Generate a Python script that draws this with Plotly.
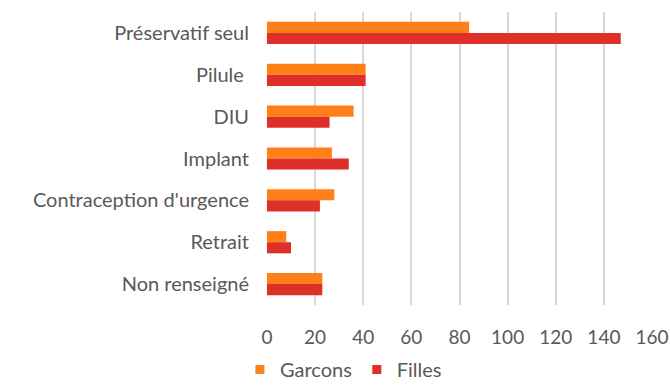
import plotly.graph_objects as go

# Contraception methods and counts by sex
methods = ["Préservatif seul", "Pilule\u00a0", "DIU", "Implant",
           "Contraception d'urgence", "Retrait", "Non renseigné"]
garcons = [84, 41, 36, 27, 28, 8, 23]
filles = [147, 41, 26, 34, 22, 10, 23]
series_names = ["Garcons", "Filles"]
x_ticks = [0, 20, 40, 60, 80, 100, 120, 140, 160]

ORANGE = "#FF8019"
RED = "#DE2F29"
TEXT = "#595959"
FONT = "Lato, 'Open Sans', sans-serif"

fig = go.Figure()
for name, values, color in zip(series_names, [garcons, filles], [ORANGE, RED]):
    fig.add_trace(go.Bar(name=name, y=methods, x=values, orientation="h",
                         marker=dict(color=color, line=dict(width=0)),
                         showlegend=False))
    # small square swatch for the legend
    fig.add_trace(go.Scatter(name=name, x=[None], y=[None], mode="markers",
                             marker=dict(symbol="square", size=9, color=color),
                             showlegend=True))

fig.update_layout(
    width=670, height=389,
    margin=dict(l=266, r=17, t=12, b=84, autoexpand=False),
    paper_bgcolor="white", plot_bgcolor="white",
    barmode="group", bargap=0.47, bargroupgap=0,
    font=dict(family=FONT, color=TEXT, size=19),
    showlegend=True,
    legend=dict(orientation="h", x=0.2, xanchor="center",
                yref="container", y=-0.008, yanchor="bottom",
                font=dict(size=20, color=TEXT),
                itemwidth=30, traceorder="normal"),
    xaxis=dict(range=[-0.4, 160.4], tickvals=x_ticks, showgrid=True,
               gridcolor="#D9D9D9", gridwidth=1.5, zeroline=False,
               showline=False, ticks="", ticklabelstandoff=19,
               tickfont=dict(size=19, color=TEXT)),
    yaxis=dict(autorange="reversed", showgrid=False, showline=False,
               ticks="", ticklabelstandoff=16,
               tickfont=dict(size=20, color=TEXT)),
)

fig.write_html("out.html")
